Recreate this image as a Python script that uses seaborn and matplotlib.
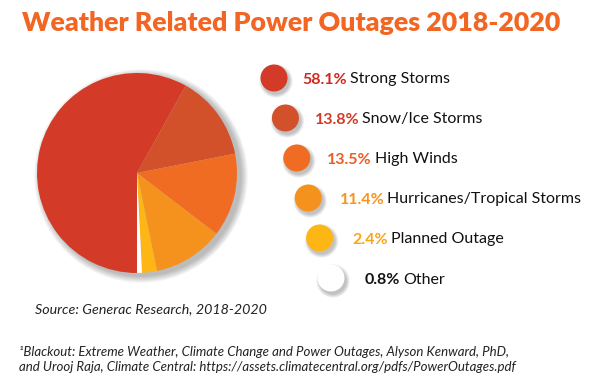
import matplotlib
matplotlib.use('Agg')
import matplotlib.pyplot as plt
import seaborn as sns
from matplotlib.patches import Circle

# --- Data ---
categories = ['Strong Storms', 'Snow/Ice Storms', 'High Winds',
              'Hurricanes/Tropical Storms', 'Planned Outage', 'Other']
shares = [58.1, 13.8, 13.5, 11.4, 2.4, 0.8]
slice_colors = ['#D33A27', '#D2512B', '#F06C23', '#F5921E', '#FDB614', '#FFFFFF']
pct_colors = ['#D0281E', '#D23A24', '#EF5B24', '#F7931E', '#F9A51A', '#111111']

title = 'Weather Related Power Outages 2018-2020'
source = 'Source: Generac Research, 2018-2020'
footnote = ['\u00b9Blackout: Extreme Weather, Climate Change and Power Outages, Alyson Kenward, PhD,',
            'and Urooj Raja, Climate Central: https://assets.climatecentral.org/pdfs/PowerOutages.pdf']

# --- Setup ---
sns.set_theme(style='white')
plt.rcParams['font.family'] = ['Lato', 'DejaVu Sans']

W, H = 600, 382
fig = plt.figure(figsize=(W / 100, H / 100), dpi=100)
ax = fig.add_axes([0, 0, 1, 1])


def Y(y):
    # image rows -> axes coords (pixels, origin bottom-left)
    return H - y


# pie with soft shadow
cx, cy, r = 137, Y(173), 100
for k in range(8):
    ax.add_patch(Circle((cx + 4, cy - 3), r + 0.5 + k * 0.9, fc='black', ec='none', alpha=0.035, zorder=0))
wedges, _ = ax.pie(shares, colors=slice_colors, startangle=-90, counterclock=False,
                   center=(cx, cy), radius=r, wedgeprops={'linewidth': 0})
for w in wedges:
    w.set_zorder(2)

ax.set_xlim(0, W)
ax.set_ylim(0, H)
ax.set_aspect('auto')
ax.axis('off')

# legend dots + labels
renderer = fig.canvas.get_renderer()
for i, (cat, val) in enumerate(zip(categories, shares)):
    x = 274 + 11.4 * i
    y = Y(78 + 40 * i)
    for k in range(5):
        ax.add_patch(Circle((x + 2, y - 3), 13.5 + k * 0.8, fc='black', ec='none', alpha=0.05, zorder=2))
    ax.add_patch(Circle((x, y), 13.5, fc=slice_colors[i], ec='none', zorder=3))
    t = ax.text(x + 28 + 1.1 * i, y, f'{val}%', fontsize=11.5, weight='bold',
                color=pct_colors[i], va='center_baseline', zorder=4)
    bb = t.get_window_extent(renderer)
    x1 = ax.transData.inverted().transform((bb.x1, bb.y0))[0]
    ax.text(x1 + 3, y, cat, fontsize=11.5, color='#111111', va='center_baseline', zorder=4)

# titles and notes
ax.text(22, Y(23), title, fontsize=19.3, weight='heavy', color='#F26522', va='center')
ax.text(35, Y(309), source, fontsize=10.3, style='italic', color='#222222', va='center')
ax.text(19, Y(352), footnote[0], fontsize=9.5, style='italic', color='#222222', va='center')
ax.text(19, Y(367), footnote[1], fontsize=9.5, style='italic', color='#222222', va='center')

fig.savefig('out.png', dpi=100, facecolor='white')
